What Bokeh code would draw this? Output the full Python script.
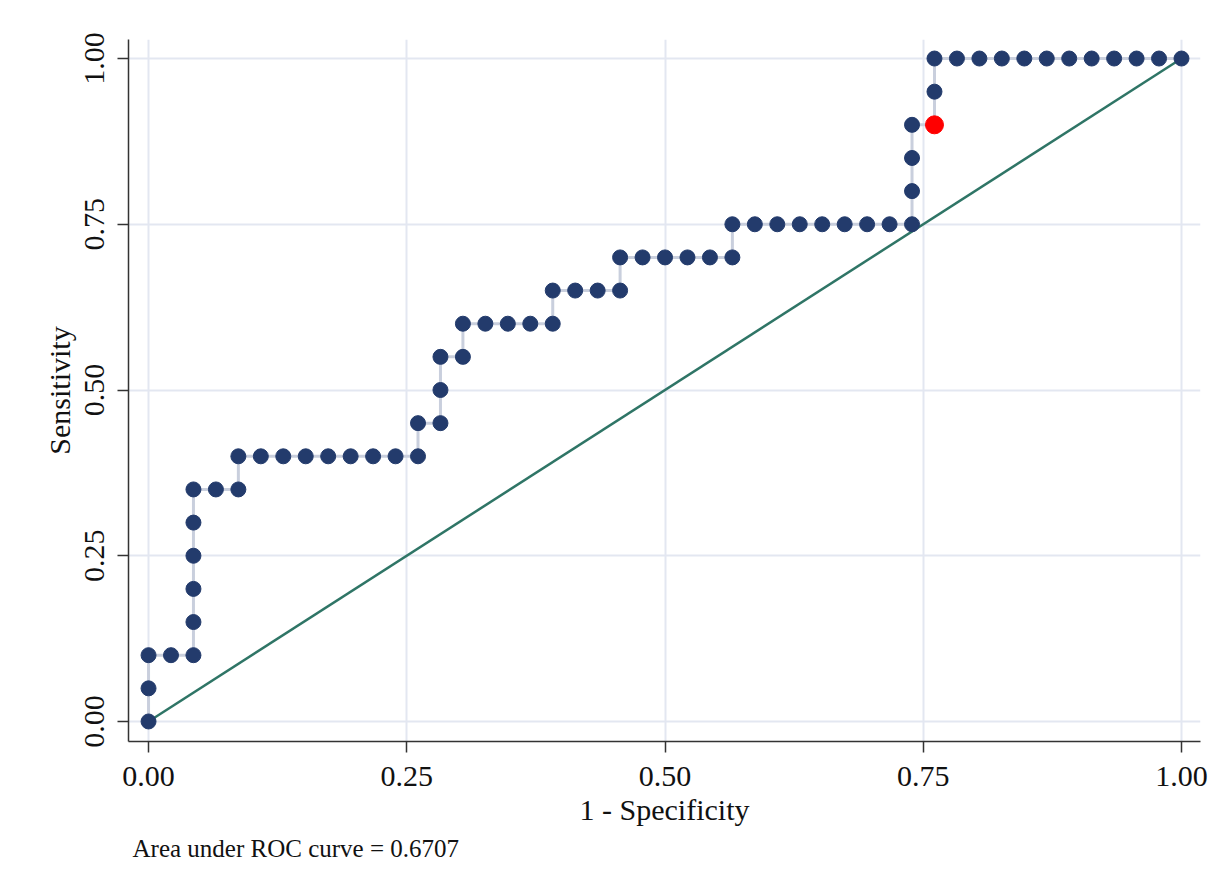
from bokeh.plotting import figure
from bokeh.models import Range1d, FixedTicker, Title, CustomJSTickFormatter
from bokeh.embed import file_html
from bokeh.resources import INLINE

# ROC data: 1 - specificity counted in steps of 1/46, sensitivity in steps of 1/20
fp_count = [0, 0, 0, 1, 2, 2, 2, 2, 2, 2, 3, 4, 4, 5, 6, 7, 8, 9, 10, 11, 12,
            12, 13, 13, 13, 14, 14, 15, 16, 17, 18, 18, 19, 20, 21, 21, 22, 23,
            24, 25, 26, 26, 27, 28, 29, 30, 31, 32, 33, 34, 34, 34, 34, 35, 35,
            35, 36, 37, 38, 39, 40, 41, 42, 43, 44, 45, 46]
tp_count = [0, 1, 2, 2, 2, 3, 4, 5, 6, 7, 7, 7, 8, 8, 8, 8, 8, 8, 8, 8, 8,
            9, 9, 10, 11, 11, 12, 12, 12, 12, 12, 13, 13, 13, 13, 14, 14, 14,
            14, 14, 14, 15, 15, 15, 15, 15, 15, 15, 15, 15, 16, 17, 18, 18, 19,
            20, 20, 20, 20, 20, 20, 20, 20, 20, 20, 20, 20]
n_neg = 46
n_pos = 20
x_spec = [c / n_neg for c in fp_count]
y_sens = [c / n_pos for c in tp_count]
cut_x = [35 / n_neg]
cut_y = [18 / n_pos]
diag = [0, 1]
ticks = [0, 0.25, 0.5, 0.75, 1.0]
auc_text = "Area under ROC curve = 0.6707"

FONT = "Liberation Serif"

p = figure(width=1220, height=885, output_backend="svg", toolbar_location=None,
           x_range=Range1d(-0.0194, 1.0184), y_range=Range1d(-0.0302, 1.0287),
           min_border_left=128, min_border_right=20, min_border_top=39,
           min_border_bottom=144)
p.outline_line_color = None
p.background_fill_color = "white"
p.border_fill_color = "white"

for ax in (p.xaxis[0], p.yaxis[0]):
    ax.ticker = FixedTicker(ticks=ticks)
    ax.formatter = CustomJSTickFormatter(code="return tick.toFixed(2);")
    ax.axis_line_color = "#333333"
    ax.axis_line_width = 1.5
    ax.major_tick_line_color = "#333333"
    ax.major_tick_line_width = 1.5
    ax.major_tick_out = 11
    ax.major_tick_in = 0
    ax.minor_tick_line_color = None
    ax.major_label_text_font = FONT
    ax.major_label_text_font_size = "30px"
    ax.major_label_text_color = "#111111"
    ax.axis_label_text_font = FONT
    ax.axis_label_text_font_size = "30px"
    ax.axis_label_text_font_style = "normal"
    ax.axis_label_text_color = "#111111"

p.xaxis.axis_label = "1 - Specificity"
p.yaxis.axis_label = "Sensitivity"
p.yaxis.major_label_orientation = "vertical"
p.xaxis.major_label_standoff = 14
p.yaxis.major_label_standoff = 13
p.xaxis.axis_label_standoff = 4
p.yaxis.axis_label_standoff = 7

p.xgrid.ticker = FixedTicker(ticks=ticks)
p.ygrid.ticker = FixedTicker(ticks=ticks)
p.grid.grid_line_color = "#e3e7f1"
p.grid.grid_line_width = 2

p.line(x_spec, y_sens, line_color="#c9cfdd", line_width=3)
p.line(diag, diag, line_color="#2f7566", line_width=2.5)
p.scatter(x_spec, y_sens, size=15, fill_color="#233b6c", line_color="#233b6c")
p.scatter(cut_x, cut_y, size=18, fill_color="#ff0000", line_color="#ff0000")

p.add_layout(Title(text=auc_text, align="left", offset=4, standoff=8,
                   text_font=FONT, text_font_size="25px",
                   text_font_style="normal", text_color="#111111"), "below")

open("out.html", "w").write(file_html(p, INLINE))
